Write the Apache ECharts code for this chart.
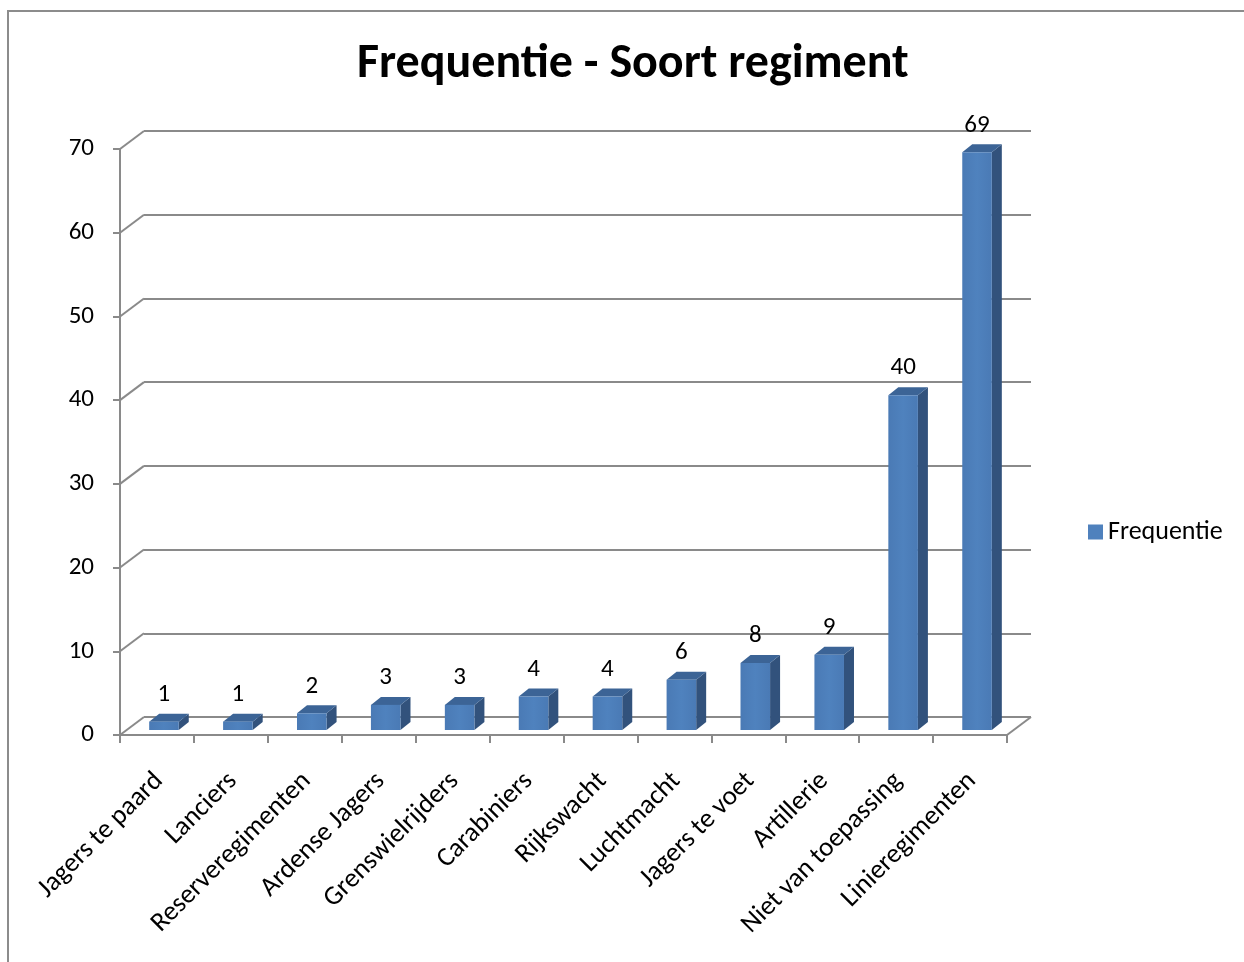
<!DOCTYPE html>
<html>
<head>
<meta charset="utf-8">
<script src="https://cdn.jsdelivr.net/npm/echarts@6/dist/echarts.min.js"></script>
<style>
    html, body { margin: 0; padding: 0; background: #fff; }
    #main { width: 1244px; height: 962px; }
</style>
</head>
<body>
<div id="main"></div>
<script>
var categories = ['Jagers te paard', 'Lanciers', 'Reserveregimenten', 'Ardense Jagers',
    'Grenswielrijders', 'Carabiniers', 'Rijkswacht', 'Luchtmacht', 'Jagers te voet',
    'Artillerie', 'Niet van toepassing', 'Linieregimenten'];
var frequentie = [1, 1, 2, 3, 3, 4, 4, 6, 8, 9, 40, 69];
var yTicks = [0, 10, 20, 30, 40, 50, 60, 70];

var font = 'Carlito, Lato, sans-serif';
var gridColor = '#8a8a8a';
// diepte van de 3d-vloer en van de balken
var wallDx = 24, wallDy = 18;
var barDx = 10, barDy = 8;

var myChart = echarts.init(document.getElementById('main'));

option = {
    animation: false,
    textStyle: {fontFamily: font},
    title: {
        text: 'Frequentie - Soort regiment',
        left: 352,
        top: 36,
        textStyle: {fontSize: 48, fontWeight: 'bold', color: '#000', fontFamily: font}
    },
    legend: {
        data: ['Frequentie'],
        left: 1083,
        top: 514,
        icon: 'rect',
        itemWidth: 15,
        itemHeight: 15,
        itemGap: 6,
        textStyle: {fontSize: 26, color: '#000', fontFamily: font}
    },
    graphic: [{
        type: 'rect',
        shape: {x: 8, y: 11, width: 1400, height: 1200},
        style: {fill: 'none', stroke: '#8c8c8c', lineWidth: 2},
        silent: true
    }],
    grid: [
        // voorvlak met assen
        {left: 120, right: 237, top: 149, bottom: 227},
        // vlak van de balken
        {left: 127, right: 230, top: 144, bottom: 232},
        // achterwand
        {left: 120 + wallDx, right: 237 - wallDx, top: 149 - wallDy, bottom: 227 + wallDy}
    ],
    xAxis: [
        {
            gridIndex: 0, type: 'category', data: categories,
            axisLine: {show: true, lineStyle: {color: gridColor, width: 2}},
            axisTick: {show: true, interval: 0, length: 8, lineStyle: {color: gridColor, width: 2}},
            axisLabel: {show: false}
        },
        {
            gridIndex: 1, type: 'category', data: categories,
            axisLine: {show: false},
            axisTick: {show: false},
            axisLabel: {
                interval: 0, rotate: 45, margin: 42, padding: [0, 7, 0, 0],
                fontSize: 27, color: '#000', fontFamily: font
            }
        },
        {gridIndex: 2, type: 'category', data: categories, show: false}
    ],
    yAxis: [
        {
            gridIndex: 0, type: 'value', min: 0, max: 70, interval: 10,
            axisLine: {show: true, lineStyle: {color: gridColor, width: 2}},
            axisTick: {show: true, length: 7, lineStyle: {color: gridColor, width: 2}},
            axisLabel: {margin: 26, padding: [7, 0, 0, 0], fontSize: 25, color: '#000', fontFamily: font},
            splitLine: {show: false}
        },
        {gridIndex: 1, type: 'value', min: 0, max: 70, interval: 10, show: false},
        {
            gridIndex: 2, type: 'value', min: 0, max: 70, interval: 10,
            axisLine: {show: false}, axisTick: {show: false}, axisLabel: {show: false},
            splitLine: {show: true, lineStyle: {color: gridColor, width: 2}}
        }
    ],
    series: [
        {
            // schuine lijnen van de zijwand en de vloer
            type: 'custom',
            name: 'wand',
            xAxisIndex: 0,
            yAxisIndex: 0,
            silent: true,
            z: 1,
            data: yTicks.map(function (v) { return [0, v]; }),
            renderItem: function (params, api) {
                var cs = params.coordSys;
                var v = api.value(1);
                var y = api.coord([0, v])[1];
                var children = [{
                    type: 'line',
                    shape: {x1: cs.x, y1: y, x2: cs.x + wallDx, y2: y - wallDy},
                    style: {stroke: gridColor, lineWidth: 2}
                }];
                if (v === 0) {
                    children.push({
                        type: 'line',
                        shape: {x1: cs.x + cs.width, y1: y, x2: cs.x + cs.width + wallDx, y2: y - wallDy},
                        style: {stroke: gridColor, lineWidth: 2}
                    });
                }
                return {type: 'group', children: children};
            }
        },
        {
            type: 'custom',
            name: 'Frequentie',
            xAxisIndex: 1,
            yAxisIndex: 1,
            z: 3,
            itemStyle: {color: '#4f81bd'},
            data: frequentie.map(function (v, i) { return [i, v]; }),
            renderItem: function (params, api) {
                var top = api.coord([api.value(0), api.value(1)]);
                var base = api.coord([api.value(0), 0]);
                var w = api.size([1, 0])[0] * 0.4;
                var x = top[0] - w / 2;
                var yt = top[1], yb = base[1];
                return {
                    type: 'group',
                    children: [
                        {
                            type: 'polygon',
                            shape: {points: [[x + w, yt], [x + w + barDx, yt - barDy], [x + w + barDx, yb - barDy], [x + w, yb]]},
                            style: {fill: '#32527c'}
                        },
                        {
                            type: 'polygon',
                            shape: {points: [[x, yt], [x + barDx, yt - barDy], [x + w + barDx, yt - barDy], [x + w, yt]]},
                            style: {fill: '#3c6496'}
                        },
                        {
                            type: 'rect',
                            shape: {x: x, y: yt, width: w, height: yb - yt},
                            style: {
                                fill: new echarts.graphic.LinearGradient(0, 0, 1, 0, [
                                    {offset: 0, color: '#4a7ab5'},
                                    {offset: 0.5, color: '#4f82be'},
                                    {offset: 1, color: '#4a7ab5'}
                                ])
                            }
                        },
                        {
                            type: 'text',
                            style: {
                                text: String(api.value(1)),
                                x: top[0],
                                y: yt - 27,
                                align: 'center',
                                verticalAlign: 'middle',
                                fontSize: 25,
                                fontFamily: font,
                                fill: '#000'
                            }
                        }
                    ]
                };
            }
        }
    ]
};

myChart.setOption(option);
</script>
</body>
</html>
